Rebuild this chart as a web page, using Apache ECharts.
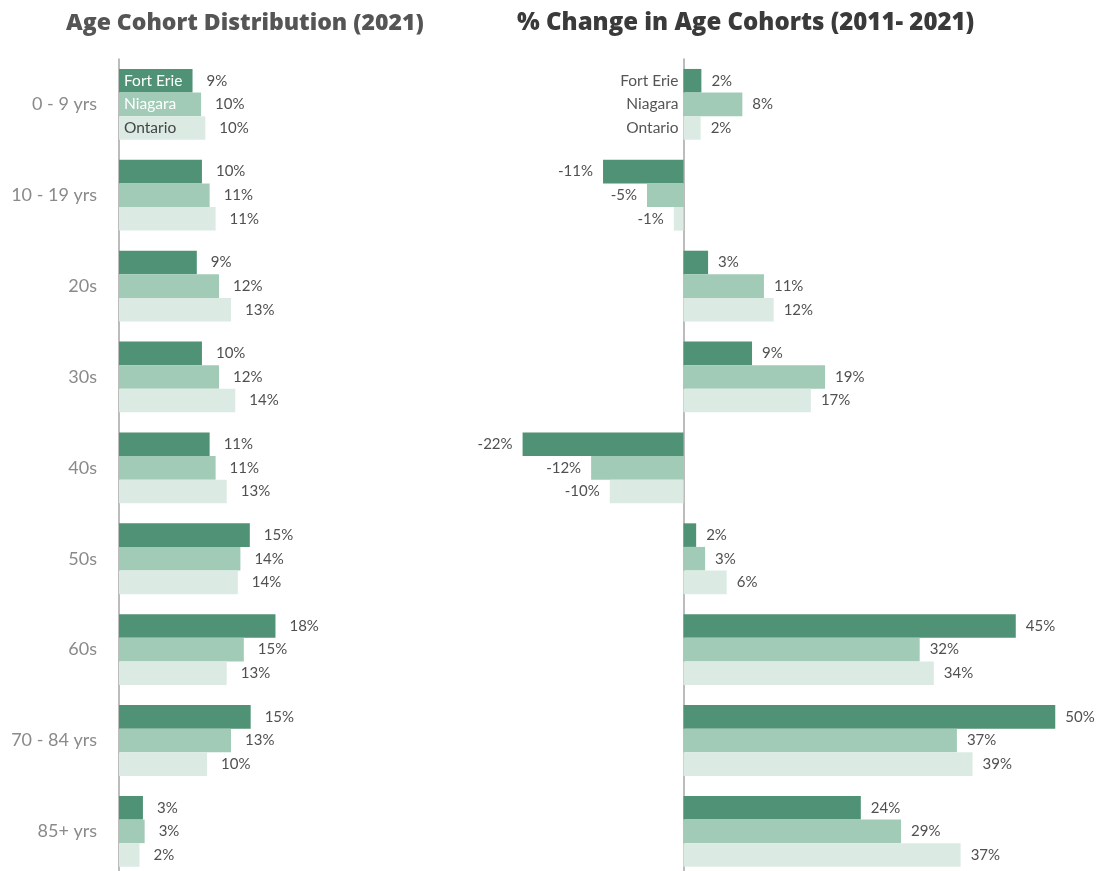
<!DOCTYPE html>
<html>
<head>
<meta charset="utf-8">
<title>Age Cohorts</title>
<script src="https://cdn.jsdelivr.net/npm/echarts@6/dist/echarts.min.js"></script>
<style>
  html, body { margin: 0; padding: 0; background: #fff; }
  #main { width: 1097px; height: 871px; }
</style>
</head>
<body>
<div id="main"></div>
<script>
// categories, top to bottom
const cohorts = ['0 - 9 yrs', '10 - 19 yrs', '20s', '30s', '40s', '50s', '60s', '70 - 84 yrs', '85+ yrs']
const regions = ['Fort Erie', 'Niagara', 'Ontario']

// share of population in 2021 (%)
const shareFortErie = [8.6, 9.7, 9.1, 9.7, 10.6, 15.3, 18.3, 15.4, 2.8]
const shareNiagara = [9.6, 10.6, 11.7, 11.7, 11.3, 14.2, 14.6, 13.1, 3.0]
const shareOntario = [10.1, 11.3, 13.1, 13.6, 12.6, 13.9, 12.6, 10.3, 2.4]

// % change 2011 - 2021
const changeFortErie = [2.4, -10.8, 3.3, 9.2, -21.6, 1.7, 44.6, 49.9, 23.8]
const changeNiagara = [7.9, -4.9, 10.8, 19.0, -12.4, 2.9, 31.7, 36.7, 29.2]
const changeOntario = [2.3, -1.3, 12.1, 17.1, -9.9, 5.8, 33.6, 38.8, 37.2]

const colors = ['#4f9275', '#a1cbb7', '#dbebe3']
const nameColors = ['#ffffff', '#ffffff', '#444444']

const font = 'Lato, "Open Sans", sans-serif'
const titleFont = '"Open Sans", Lato, sans-serif'
const barW = 23.6
const gridTop = 58.9
const gridH = 817.9

const shares = [shareFortErie, shareNiagara, shareOntario]
const changes = [changeFortErie, changeNiagara, changeOntario]

function valueLabel (dist) {
  return {
    show: true,
    position: 'right',
    distance: dist,
    color: '#505050',
    fontSize: 15,
    fontFamily: font,
    formatter: p => Math.round(p.value) + '%'
  }
}

const series = []

// left chart bars
shares.forEach((arr, i) => {
  series.push({
    name: regions[i],
    type: 'bar',
    xAxisIndex: 0,
    yAxisIndex: 0,
    barWidth: barW,
    barGap: '0%',
    itemStyle: { color: colors[i] },
    label: valueLabel(14),
    data: arr
  })
})

// left chart: region names inside the first group
shares.forEach((arr, i) => {
  series.push({
    type: 'bar',
    xAxisIndex: 0,
    yAxisIndex: 1,
    barWidth: barW,
    barGap: '0%',
    silent: true,
    itemStyle: { color: 'rgba(0,0,0,0)' },
    label: {
      show: true,
      position: 'insideLeft',
      distance: 5,
      color: nameColors[i],
      fontSize: 15.5,
      fontFamily: font,
      formatter: regions[i]
    },
    data: arr.map((v, j) => (j === 0 ? v : '-'))
  })
})

// right chart bars
changes.forEach((arr, i) => {
  series.push({
    name: regions[i],
    type: 'bar',
    xAxisIndex: 1,
    yAxisIndex: 2,
    barWidth: barW,
    barGap: '0%',
    itemStyle: { color: colors[i] },
    label: valueLabel(10),
    data: arr.map(v => (v < 0 ? { value: v, label: { position: 'left' } } : v))
  })
})

// right chart: region names left of the axis in the first group
changes.forEach((arr, i) => {
  series.push({
    type: 'bar',
    xAxisIndex: 1,
    yAxisIndex: 3,
    barWidth: barW,
    barGap: '0%',
    silent: true,
    itemStyle: { color: 'rgba(0,0,0,0)' },
    label: {
      show: true,
      position: 'left',
      distance: 5,
      color: '#555555',
      fontSize: 15.5,
      fontFamily: font,
      formatter: regions[i]
    },
    data: arr.map((v, j) => (j === 0 ? v : '-'))
  })
})

const axisLineStyle = { show: true, lineStyle: { color: '#a6a6a6', width: 1.5 } }

const option = {
  backgroundColor: '#ffffff',
  animation: false,
  title: [
    {
      text: 'Age Cohort Distribution (2021)',
      left: 61,
      top: 7,
      textStyle: { fontFamily: titleFont, fontSize: 23, fontWeight: 800, color: '#555555' }
    },
    {
      text: '% Change in Age Cohorts (2011- 2021)',
      left: 512,
      top: 6,
      textStyle: { fontFamily: titleFont, fontSize: 24, fontWeight: 800, color: '#3a3a3a' }
    }
  ],
  grid: [
    { left: 119, width: 342, top: gridTop, height: gridH, outerBoundsMode: 'none' },
    { left: 497.25, width: 596, top: gridTop, height: gridH, outerBoundsMode: 'none' }
  ],
  xAxis: [
    { gridIndex: 0, type: 'value', min: 0, max: 40, show: false },
    { gridIndex: 1, type: 'value', min: -25, max: 55, show: false }
  ],
  yAxis: [
    {
      gridIndex: 0,
      type: 'category',
      inverse: true,
      data: cohorts,
      axisLine: axisLineStyle,
      axisTick: { show: false },
      axisLabel: { margin: 22, color: '#8a8a8a', fontSize: 18, fontFamily: font }
    },
    { gridIndex: 0, type: 'category', inverse: true, data: cohorts, show: false },
    {
      gridIndex: 1,
      type: 'category',
      inverse: true,
      data: cohorts,
      axisLine: axisLineStyle,
      axisTick: { show: false },
      axisLabel: { show: false }
    },
    { gridIndex: 1, type: 'category', inverse: true, data: cohorts, show: false }
  ],
  series: series
}

const myChart = echarts.init(document.getElementById('main'))
myChart.setOption(option)
</script>
</body>
</html>
